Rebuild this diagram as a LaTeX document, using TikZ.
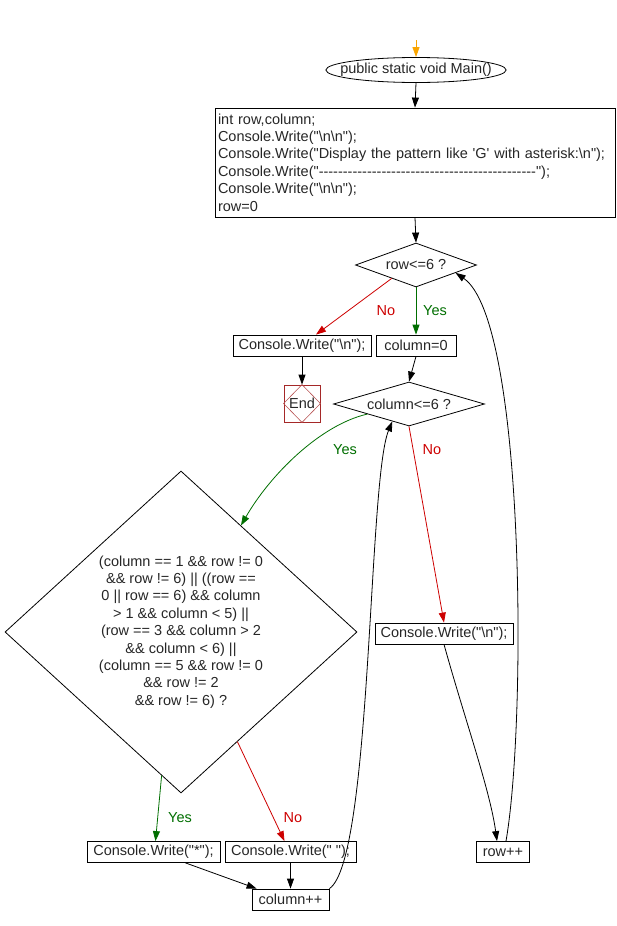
\documentclass[tikz,border=0pt]{standalone}
\usepackage{fontspec}
\newfontfamily\flowfont{Liberation Sans}[Ligatures=TeXOff]
\usepackage{tikz}
\usetikzlibrary{calc, shapes.geometric, arrows.meta}

\definecolor{yescol}{RGB}{0,110,0}
\definecolor{nocol}{RGB}{205,0,0}
\definecolor{stopcol}{RGB}{165,40,40}
\definecolor{entrycol}{RGB}{250,165,0}

\tikzset{
  every node/.style={font=\flowfont\fontsize{14.5}{17.4}\selectfont, text=black!85},
  box/.style={draw, rectangle, inner sep=0pt, minimum height=21},
  decision/.style={draw, diamond, inner sep=0pt},
  arr/.style={-{Triangle[length=10pt,width=7pt]}},
  yesline/.style={arr, draw=yescol},
  noline/.style={arr, draw=nocol},
  yeslabel/.style={text=yescol},
  nolabel/.style={text=nocol},
}

\begin{document}
\begin{tikzpicture}[x=1pt, y=-1pt, line width=0.8pt]
\useasboundingbox (0,0) rectangle (617,926);
\coordinate (entry) at (416,40);
\node[draw, ellipse, inner xsep=-12pt, inner ysep=0pt, minimum width=169, minimum height=25] (start) at (416,70) {public static void Main()};
\node[box, minimum width=400, minimum height=109, text width=394, align=left] (init) at (415,162.5) {int row,column;\\
Console.Write("\textbackslash n\textbackslash n");\\
Console.Write("Display the pattern like 'G' with asterisk:\textbackslash n");\\
Console.Write("---------------------------------------------");\\
Console.Write("\textbackslash n\textbackslash n");\\
row=0};
\node[decision, aspect=2.75, minimum width=121, minimum height=44] (rowchk) at (416,265) {row<=6 ?};
\node[box, minimum width=138] (cwend) at (302,345.5) {Console.Write("\textbackslash n");};
\node[box, minimum width=80] (colinit) at (416,345.5) {column=0};
\node[draw=stopcol, rectangle, minimum width=36, minimum height=37, inner sep=0pt] (stop) at (302,403.5) {End};
\node[decision, aspect=3.43, minimum width=151, minimum height=44] (colchk) at (409,404) {column<=6 ?};
\node[decision, aspect=1.09, minimum width=352, minimum height=322, align=center] (cond) at (181,632) {(column == 1 \&\& row != 0\\
\&\& row != 6) || ((row ==\\
0 || row == 6) \&\& column\\
> 1 \&\& column < 5) ||\\
(row == 3 \&\& column > 2\\
\&\& column < 6) ||\\
(column == 5 \&\& row != 0\\
\&\& row != 2\\
\&\& row != 6) ?};
\node[box, minimum width=138] (cwnl) at (444,633.5) {Console.Write("\textbackslash n");};
\node[box, minimum width=53] (rowinc) at (503,852) {row++};
\node[box, minimum width=133] (cwstar) at (153.5,852) {Console.Write("*");};
\node[box, minimum width=131] (cwspace) at (290.5,852) {Console.Write(" ");};
\node[box, minimum width=77] (colinc) at (290.5,899.5) {column++};
% end marker
\draw[stopcol!80!white, line width=0.6pt] (stop.north) -- (stop.east) -- (stop.south) -- (stop.west) -- cycle;
% flow
\draw[arr, draw=entrycol] (entry) -- (start.north);
\draw[arr] (start.south) -- (init.north);
\draw[arr] (init.south) -- (rowchk.north);
\draw[noline] ($(rowchk.west)!0.6!(rowchk.south)$) -- ($(cwend.north)+(14,0)$);
\draw[yesline] (rowchk.south) -- (colinit.north);
\node[nolabel] (no1) at (386,311) {No};
\node[yeslabel] (yes1) at (435,311) {Yes};
\draw[arr] (cwend.south) -- (stop.north);
\draw[arr] (colinit.south) -- (colchk.north);
\draw[yesline] ($(colchk.west)!0.45!(colchk.south)$) .. controls (320,425) and (270,475) .. ($(cond.north)!0.34!(cond.east)$);
\node[yeslabel] (yes2) at (345,450) {Yes};
\draw[noline] (colchk.south) -- (cwnl.north);
\node[nolabel] (no2) at (432,450) {No};
\draw[arr] (cwnl.south) .. controls (465,720) and (490,790) .. ($(rowinc.north)+(-6,0)$);
\draw[arr] ($(rowinc.north)+(3,0)$) .. controls (527,720) and (525,320) .. ($(rowchk.east)!0.35!(rowchk.south)$);
\draw[yesline] ($(cond.south)!0.11!(cond.west)$) -- ($(cwstar.north)+(2,0)$);
\node[yeslabel] (yes3) at (180,818) {Yes};
\draw[noline] ($(cond.south)!0.32!(cond.east)$) -- ($(cwspace.north)+(-6,0)$);
\node[nolabel] (no3) at (293,818) {No};
\draw[arr] ($(cwstar.south)+(32,0)$) -- ($(colinc.north west)+(5,0)$);
\draw[arr] (cwspace.south) -- (colinc.north);
\draw[arr] (colinc.north east) .. controls (372,860) and (368,480) .. ($(colchk.west)!0.78!(colchk.south)$);
\end{tikzpicture}
\end{document}
